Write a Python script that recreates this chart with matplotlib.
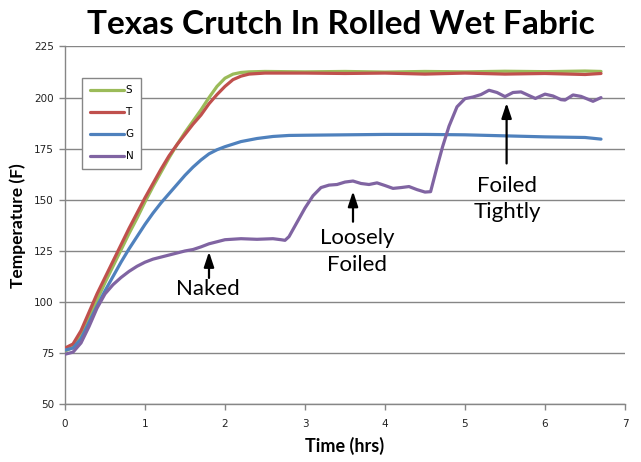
import matplotlib
matplotlib.use("Agg")
import matplotlib.pyplot as plt

# ---- data ----
s_time = [0, 0.1, 0.2, 0.3, 0.4, 0.5, 0.6, 0.7, 0.8, 0.9, 1.0, 1.1, 1.2, 1.3, 1.4, 1.5, 1.6, 1.7,
          1.8, 1.9, 2.0, 2.1, 2.2, 2.3, 2.5, 3.0, 3.5, 4.0, 4.5, 5.0, 5.5, 6.0, 6.5, 6.7]
s_temp = [76, 78, 83.5, 92, 101, 109.5, 117.5, 125.5, 133.5, 141, 149, 156.5, 163.5, 170.5, 177, 183,
          188.5, 194, 200, 205.5, 209.5, 211.5, 212.3, 212.6, 212.8, 212.6, 212.8, 212.5, 212.8, 212.6,
          212.9, 212.7, 213, 212.8]

t_time = [0, 0.1, 0.2, 0.3, 0.4, 0.5, 0.6, 0.7, 0.8, 0.9, 1.0, 1.1, 1.2, 1.3, 1.4, 1.5, 1.6, 1.7,
          1.8, 1.9, 2.0, 2.1, 2.2, 2.3, 2.5, 3.0, 3.5, 4.0, 4.5, 5.0, 5.5, 6.0, 6.5, 6.7]
t_temp = [77.5, 79.5, 86, 95, 104, 112, 120, 128, 136, 143.5, 151, 158, 165, 171.5, 177, 182, 187,
          191.5, 197, 201.5, 205.5, 208.8, 210.5, 211.5, 212, 212, 211.8, 212, 211.5, 212, 211.5,
          211.8, 211.3, 211.8]

g_time = [0, 0.1, 0.2, 0.3, 0.4, 0.5, 0.6, 0.7, 0.8, 0.9, 1.0, 1.1, 1.2, 1.3, 1.4, 1.5, 1.6, 1.7,
          1.8, 1.9, 2.0, 2.2, 2.4, 2.6, 2.8, 3.0, 3.5, 4.0, 4.5, 5.0, 5.5, 6.0, 6.5, 6.7]
g_temp = [76.5, 77.5, 82, 90, 98, 105.5, 112.5, 119.5, 126, 132, 138, 143.5, 148.5, 153, 157.5, 162,
          166, 169.5, 172.5, 174.5, 176, 178.5, 180, 181, 181.5, 181.6, 181.8, 182, 182, 181.8, 181.3,
          180.8, 180.5, 179.7]

n_time = [0, 0.1, 0.2, 0.3, 0.4, 0.5, 0.6, 0.7, 0.8, 0.9, 1.0, 1.1, 1.2, 1.3, 1.4, 1.5, 1.6, 1.7,
          1.8, 1.9, 2.0, 2.2, 2.4, 2.6, 2.7, 2.75, 2.8, 2.9, 3.0, 3.1, 3.2, 3.3, 3.4, 3.5, 3.6, 3.7,
          3.8, 3.9, 4.0, 4.1, 4.2, 4.3, 4.4, 4.5, 4.57, 4.65, 4.72, 4.8, 4.9, 5.0, 5.1, 5.2, 5.3,
          5.4, 5.5, 5.6, 5.7, 5.8, 5.88, 6.0, 6.1, 6.2, 6.25, 6.35, 6.45, 6.6, 6.7]
n_temp = [74.5, 75.5, 80, 88, 97, 104, 108.5, 112, 115, 117.5, 119.5, 121, 122, 123, 124, 125, 125.7,
          127, 128.5, 129.5, 130.5, 131, 130.7, 131, 130.5, 130.2, 132, 139, 146, 152, 156, 157.2,
          157.5, 158.7, 159.2, 158, 157.5, 158.3, 157, 155.6, 156, 156.5, 155, 153.8, 154, 166, 176,
          186, 195.5, 199.5, 200.3, 201.5, 203.6, 202.5, 200.5, 202.5, 202.8, 201, 199.6, 201.7,
          200.8, 199, 198.8, 201.3, 200.6, 198.2, 200]

series_labels = ["S", "T", "G", "N"]
series_colors = ["#9BBB59", "#C0504D", "#4F81BD", "#8064A2"]

x_ticks = [0, 1, 2, 3, 4, 5, 6, 7]
y_ticks = [50, 75, 100, 125, 150, 175, 200, 225]

notes = ["Naked", "Loosely\nFoiled", "Foiled\nTightly"]
note_text_xy = [(1.79, 106.4), (3.65, 124.7), (5.53, 150.3)]
note_arrow_from = [(1.8, 111.8), (3.6, 139.3), (5.52, 167.8)]
note_arrow_to = [(1.8, 124.6), (3.6, 154.2), (5.52, 197.4)]

# ---- figure ----
fig = plt.figure(figsize=(6.41, 4.62), dpi=100)
ax = fig.add_axes([65 / 641, 57.7 / 462, 560 / 641, 357.8 / 462])

grid_c = "#868686"
series = [(s_time, s_temp), (t_time, t_temp), (g_time, g_temp), (n_time, n_temp)]
for (x, y), lab, col in zip(series, series_labels, series_colors):
    ax.plot(x, y, color=col, lw=2.3, label=lab, solid_capstyle="round",
            solid_joinstyle="round", zorder=3)

ax.set_xlim(0, 7)
ax.set_ylim(50, 225)
ax.set_xticks(x_ticks)
ax.set_yticks(y_ticks)
ax.yaxis.grid(True, color=grid_c, lw=1.0)
ax.set_axisbelow(True)
for sp in ["top", "right"]:
    ax.spines[sp].set_visible(False)
for sp in ["left", "bottom"]:
    ax.spines[sp].set_color(grid_c)
    ax.spines[sp].set_linewidth(1.0)
ax.tick_params(axis="both", colors=grid_c, length=4.5, width=1.0, labelsize=7.5,
               labelcolor="#222222", direction="out")
ax.tick_params(axis="x", pad=6)
for lbl in ax.get_xticklabels() + ax.get_yticklabels():
    lbl.set_family("DejaVu Sans")

ax.set_xlabel("Time (hrs)", fontsize=13, fontweight="bold", family="Lato", labelpad=6)
ax.set_ylabel("Temperature (F)", fontsize=12.5, fontweight="bold", family="Lato", labelpad=6)

fig.text(0.532, 0.948, "Texas Crutch In Rolled Wet Fabric", ha="center", va="center",
         fontsize=24, fontweight="bold", family="Lato")

leg = ax.legend(loc="upper left", bbox_to_anchor=(0.030, 0.913), borderaxespad=0,
                fontsize=7.5, handlelength=3.3, handletextpad=0.15, labelspacing=1.15,
                borderpad=0.75, fancybox=False, framealpha=1, edgecolor=grid_c)
leg.get_frame().set_linewidth(1.0)

for txt, txy, a0, a1 in zip(notes, note_text_xy, note_arrow_from, note_arrow_to):
    ax.text(txy[0], txy[1], txt, ha="center", va="center", fontsize=16, family="Lato",
            linespacing=1.4, zorder=4)
    ax.annotate("", xy=a1, xytext=a0,
                arrowprops=dict(arrowstyle="-|>,head_length=0.9,head_width=0.3",
                                color="black", lw=1.6, shrinkA=0, shrinkB=0), zorder=4)

fig.savefig("out.png", dpi=100)
